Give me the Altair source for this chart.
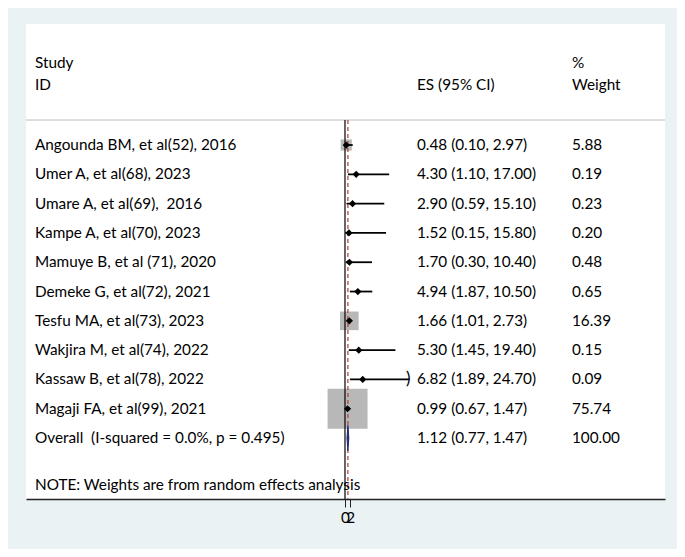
import altair as alt
import pandas as pd

# ---------------- data ----------------
studies = [
    "Angounda BM, et al(52), 2016",
    "Umer A, et al(68), 2023",
    "Umare A, et al(69),\u00a0 2016",
    "Kampe A, et al(70), 2023",
    "Mamuye B, et al (71), 2020",
    "Demeke G, et al(72), 2021",
    "Tesfu MA, et al(73), 2023",
    "Wakjira M, et al(74), 2022",
    "Kassaw B, et al(78), 2022",
    "Magaji FA, et al(99), 2021",
]
es = [0.48, 4.30, 2.90, 1.52, 1.70, 4.94, 1.66, 5.30, 6.82, 0.99]
lo = [0.10, 1.10, 0.59, 0.15, 0.30, 1.87, 1.01, 1.45, 1.89, 0.67]
hi = [2.97, 17.00, 15.10, 15.80, 10.40, 10.50, 2.73, 19.40, 24.70, 1.47]
wt = [5.88, 0.19, 0.23, 0.20, 0.48, 0.65, 16.39, 0.15, 0.09, 75.74]
truncated = [False, False, False, False, False, False, False, False, True, False]

overall_label = "Overall\u00a0 (I-squared = 0.0%, p = 0.495)"
overall_es, overall_lo, overall_hi, overall_wt = 1.12, 0.77, 1.47, 100.00
note = "NOTE: Weights are from random effects analysis"

x_ticks = [0, 2]
x_tick_labels = ["0", "2"]

# ---------------- tables ----------------
rows = list(range(len(studies)))
df = pd.DataFrame({
    "row": rows, "study": studies, "es": es, "lo": lo, "hi": hi, "wt": wt,
    "trunc": truncated,
})
df["es_text"] = [f"{e:.2f} ({l:.2f}, {h:.2f})" for e, l, h in zip(es, lo, hi)]
df["wt_text"] = [f"{w:.2f}" for w in wt]

overall_row = len(studies)
text_df = pd.concat([
    df[["row", "study", "es_text", "wt_text"]],
    pd.DataFrame({
        "row": [overall_row],
        "study": [overall_label],
        "es_text": [f"{overall_es:.2f} ({overall_lo:.2f}, {overall_hi:.2f})"],
        "wt_text": [f"{overall_wt:.2f}"],
    }),
], ignore_index=True)

half_h = 0.43
diamond_df = pd.DataFrame({
    "yy": [overall_row - half_h, overall_row, overall_row + half_h],
    "xa": [overall_es, overall_lo, overall_es],
    "xb": [overall_es, overall_hi, overall_es],
})

header_line_row = -0.853
note_row = 11.6
vlines_df = pd.DataFrame({"xv": [0.0], "y1": [header_line_row]})
ovline_df = pd.DataFrame({"xv": [overall_es], "y1": [header_line_row]})

W, H = 639, 475
xs = alt.Scale(domain=[-122.69, 123.08], nice=False, zero=False)
ys = alt.Scale(domain=[-4.13, 12.08], reverse=True, nice=False, zero=False)
label_expr = "{" + ",".join(f"'{v}':'{t}'" for v, t in zip(x_ticks, x_tick_labels)) + "}[datum.value]"
x_axis = alt.Axis(values=x_ticks, labelExpr=label_expr, title=None, grid=False)

FONT = "Lato"
FS = 15.3

def txt(**kw):
    return dict(font=FONT, fontSize=FS, color="#000000", baseline="middle", align="left", **kw)

# ---------------- layers ----------------
ci = alt.Chart(df).mark_rule(color="black", strokeWidth=1.8).encode(
    x=alt.X("lo:Q", scale=xs, axis=x_axis),
    x2="hi:Q",
    y=alt.Y("row:Q", scale=ys, axis=None),
)

squares = alt.Chart(df).mark_square(color="#b8b8b8", opacity=1, filled=True).encode(
    x=alt.X("es:Q", scale=xs, axis=x_axis),
    y=alt.Y("row:Q", scale=ys, axis=None),
    size=alt.Size("wt:Q", scale=alt.Scale(type="linear", domain=[0, 100], range=[0, 2110]), legend=None),
)

points = alt.Chart(df).mark_point(shape="diamond", filled=True, color="black", size=52, opacity=1).encode(
    x=alt.X("es:Q", scale=xs, axis=x_axis),
    y=alt.Y("row:Q", scale=ys, axis=None),
)

arrows = alt.Chart(df).transform_filter("datum.trunc").mark_text(
    text=")", font=FONT, fontSize=17, color="black", baseline="middle", align="center", dx=-1
).encode(
    x=alt.X("hi:Q", scale=xs, axis=x_axis),
    y=alt.Y("row:Q", scale=ys, axis=None),
)

null_line = alt.Chart(vlines_df).mark_rule(color="black", strokeWidth=1.2).encode(
    x=alt.X("xv:Q", scale=xs, axis=x_axis),
    y=alt.Y("y1:Q", scale=ys, axis=None),
    y2=alt.value(H),
)

overall_line = alt.Chart(ovline_df).mark_rule(color="#b03a3a", strokeWidth=1.2, strokeDash=[4, 3]).encode(
    x=alt.X("xv:Q", scale=xs, axis=x_axis),
    y=alt.Y("y1:Q", scale=ys, axis=None),
    y2=alt.value(H),
)

diamond = alt.Chart(diamond_df).mark_area(
    orient="horizontal", color="#1f2a7a", opacity=1, stroke="#1f2a7a", strokeWidth=1
).encode(
    y=alt.Y("yy:Q", scale=ys, axis=None),
    x=alt.X("xa:Q", scale=xs, axis=x_axis),
    x2="xb:Q",
)

header_rule = alt.Chart(pd.DataFrame({"pos": [header_line_row]})).mark_rule(
    color="#bdbdbd", strokeWidth=1
).encode(
    y=alt.Y("pos:Q", scale=ys, axis=None),
    x=alt.value(0), x2=alt.value(W),
)

study_txt = alt.Chart(text_df).mark_text(**txt()).encode(
    x=alt.value(9), y=alt.Y("row:Q", scale=ys, axis=None), text="study:N")
es_txt = alt.Chart(text_df).mark_text(**txt()).encode(
    x=alt.value(391), y=alt.Y("row:Q", scale=ys, axis=None), text="es_text:N")
wt_txt = alt.Chart(text_df).mark_text(**txt()).encode(
    x=alt.value(546), y=alt.Y("row:Q", scale=ys, axis=None), text="wt_text:N")

header_df = pd.DataFrame({
    "t": ["Study", "ID", "ES (95% CI)", "%", "Weight", note],
    "r": [-2.80, -2.05, -2.05, -2.80, -2.05, note_row],
    "px": [9, 9, 391, 546, 546, 9],
})
headers = alt.Chart(header_df).mark_text(**txt()).encode(
    x=alt.X("px:Q", scale=None),
    y=alt.Y("r:Q", scale=ys, axis=None),
    text="t:N",
)

chart = alt.layer(
    header_rule, squares, ci, null_line, overall_line, diamond, points, arrows,
    study_txt, es_txt, wt_txt, headers,
).properties(
    width=W, height=H,
    padding={"left": 18, "top": 16, "right": 12, "bottom": 50},
    autosize=alt.AutoSizeParams(type="none"),
    background="#eaf2f4",
).configure_view(
    stroke=None, fill="white",
).configure_axis(
    domainColor="#222222", domainWidth=1.5, tickColor="#222222", tickSize=8, tickWidth=1,
    labelFont=FONT, labelFontSize=FS, labelColor="#000000", labelPadding=3,
)

chart.save("out.html", embed_options={"renderer": "svg", "actions": False})
